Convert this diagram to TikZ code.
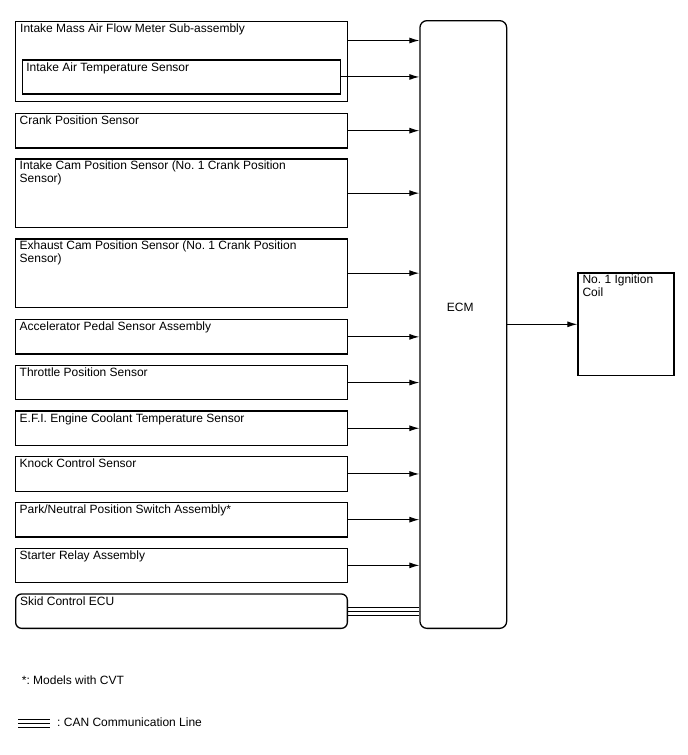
\documentclass[tikz,border=0pt]{standalone}
\usepackage{fontspec}
\setmainfont{Liberation Sans}
\usetikzlibrary{arrows.meta}
\frenchspacing

\tikzset{
    box/.style={draw, line width=1.3pt, anchor=north west, inner sep=0pt,
        minimum width=331.7pt},
    tag/.style={anchor=north west, inner sep=0pt, align=left,
        font=\fontsize{12}{13.3}\selectfont, execute at begin node=\strut},
    note/.style={inner sep=0pt, font=\fontsize{12}{13.3}\selectfont},
    sig/.style={->, line width=1pt},
    canline/.style={line width=1.1pt},
}

\begin{document}
\begin{tikzpicture}[x=1pt, y=-1pt, >={Latex[length=10pt,width=6pt]}]
        \useasboundingbox (0,0) rectangle (688,755);

        % -- ECM and ignition coil --
        \node[box, rounded corners=7pt, minimum width=86.7pt, minimum height=607.7pt]
            (ecm) at (419.3,20) {};
        \node[note] (ecm-t) at ([xshift=-3pt,yshift=17pt]ecm.center) {ECM};
        \node[box, minimum width=96pt, minimum height=102.7pt] (coil) at (577.3,272.3) {};
        \node[tag] (coil-t) at ([xshift=5pt,yshift=-2.3pt]coil.north west)
            {No. 1 Ignition\\Coil};
        \draw[sig] (ecm.east |- coil.west) -- (coil.west);

        % -- Mass air flow meter with the intake air temperature sensor inside --
        \node[box, minimum height=79.7pt] (mafm) at (15,21) {};
        \node[tag] (mafm-t) at ([xshift=5pt,yshift=-2.3pt]mafm.north west)
            {Intake Mass Air Flow Meter Sub-assembly};
        \node[box, minimum width=318.3pt, minimum height=34pt] (iat) at (21.7,59.3) {};
        \node[tag] (iat-t) at ([xshift=4.5pt,yshift=-2.3pt]iat.north west)
            {Intake Air Temperature Sensor};
        \coordinate (mafm-out) at ([yshift=-19.5pt]mafm.north east);
        \draw[sig] (mafm-out) -- (mafm-out -| ecm.west);
        \draw[sig] (iat.east) -- (iat.east -| ecm.west);

        % -- Other sensors: name / top / height / text --
        \foreach \name/\y/\h/\txt in {
            crank/112.7/34.6/{Crank Position Sensor},
            incam/158.3/68.4/{Intake Cam Position Sensor (No. 1 Crank Position\\Sensor)},
            excam/238.3/68.4/{Exhaust Cam Position Sensor (No. 1 Crank Position\\Sensor)},
            accel/319.0/34.4/{Accelerator Pedal Sensor Assembly},
            thr/364.7/34.4/{Throttle Position Sensor},
            ect/410.4/34.4/{E.F.I. Engine Coolant Temperature Sensor},
            knock/456.1/34.4/{Knock Control Sensor},
            pnp/501.8/34.4/{Park/Neutral Position Switch Assembly*},
            starter/547.5/34.4/{Starter Relay Assembly}
        }{
            \node[box, minimum height=\h] (\name) at (15,\y) {};
            \node[tag] (\name-t) at ([xshift=4.5pt,yshift=-2.3pt]\name.north west) {\txt};
            \draw[sig] (\name.east) -- (\name.east -| ecm.west);
        }

        % -- Skid control ECU on the CAN bus --
        \node[box, rounded corners=6pt, minimum height=34.4pt] (skid) at (15,593.3) {};
        \node[tag] (skid-t) at ([xshift=5pt,yshift=-2.3pt]skid.north west) {Skid Control ECU};
        \foreach \dy in {-4,0,4}{
            \coordinate (can\dy) at ([yshift=\dy pt]skid.east);
            \draw[canline] (can\dy) -- (can\dy -| ecm.west);
        }

        % -- Notes --
        \node[note, anchor=west] (cvt) at (21.7,680.7) {*: Models with CVT};
        \coordinate (leg-a) at (18,723.5);
        \coordinate (leg-b) at (50,723.5);
        \foreach \dy in {-4,0,4}
            \draw[canline] ([yshift=\dy pt]leg-a) -- ([yshift=\dy pt]leg-b);
        \node[note, anchor=west] (leg-t) at ([xshift=7pt,yshift=0.8pt]leg-b)
            {: CAN Communication Line};

    \end{tikzpicture}
\end{document}
